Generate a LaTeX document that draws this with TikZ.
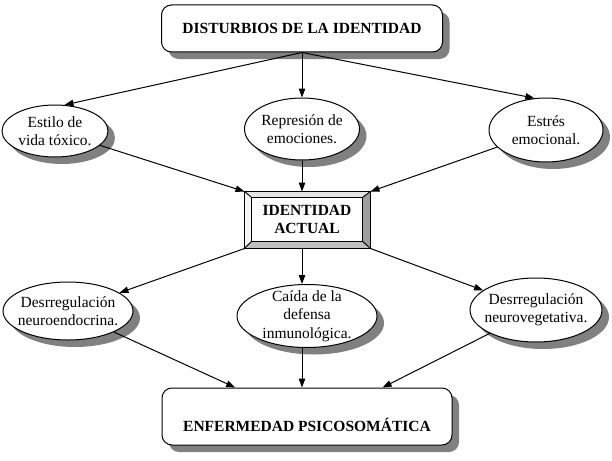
\documentclass[tikz,border=0pt]{standalone}
\usepackage{fontspec}
\setmainfont{Liberation Serif}
\usepackage{tikz}
\usetikzlibrary{arrows.meta,shapes.geometric,shadows}

\newcommand{\diagfont}{\fontsize{15.5}{18.5}\selectfont}

\begin{document}
\begin{tikzpicture}[
    x=1pt, y=-1pt, line width=1pt,
    shade/.style={drop shadow={shadow xshift=7pt, shadow yshift=-7pt, fill=black!50, opacity=1}},
    headbox/.style={draw, fill=white, rounded corners=10pt, inner sep=0pt, font=\diagfont\bfseries, shade},
    oval/.style={ellipse, draw, fill=white, align=center, inner xsep=-10pt, inner ysep=-10pt, font=\diagfont, shade},
    bevel/.style={draw, inner sep=0pt},
    arr/.style={-{Triangle[length=9pt, width=6.5pt]}}
  ]
    \useasboundingbox (0,0) rectangle (612,460);

    % upper row
    \node[headbox, minimum width=281pt, minimum height=47pt] (top) at (302,28.5) {DISTURBIOS DE LA IDENTIDAD};
    \node[oval, minimum width=106pt, minimum height=52pt] (e1) at (55,131) {Estilo de\\vida tóxico.};
    \node[oval, minimum width=115pt, minimum height=62pt] (e2) at (302,129) {Represión de\\emociones.};
    \node[oval, minimum width=114pt, minimum height=64pt] (e3) at (546,130) {Estrés\\emocional.};

    % centre box with bevelled frame
    \node[minimum width=125pt, minimum height=56pt, inner sep=0pt] (mid) at (307.5,220) {};
    \node[minimum width=110pt, minimum height=43pt, inner sep=0pt, align=center, font=\diagfont\bfseries] (midin) at (307,219.5) {IDENTIDAD\\ACTUAL};
    \filldraw[line width=0.8pt, fill=black!10] (mid.north west) -- (mid.north east) -- (midin.north east) -- (midin.north west) -- cycle;
    \filldraw[line width=0.8pt, fill=black!4] (mid.north west) -- (midin.north west) -- (midin.south west) -- (mid.south west) -- cycle;
    \filldraw[line width=0.8pt, fill=black!38] (mid.north east) -- (mid.south east) -- (midin.south east) -- (midin.north east) -- cycle;
    \filldraw[line width=0.8pt, fill=black!25] (mid.south west) -- (midin.south west) -- (midin.south east) -- (mid.south east) -- cycle;

    % lower row
    \node[oval, minimum width=130pt, minimum height=58pt] (d1) at (68,311) {Desrregulación\\neuroendocrina.};
    \node[oval, minimum width=140pt, minimum height=63pt] (d2) at (307,316) {Caída de la\\defensa\\inmunológica.};
    \node[oval, minimum width=132pt, minimum height=64pt] (d3) at (536,310) {Desrregulación\\neurovegetativa.};
    \node[headbox, minimum width=290pt, minimum height=57pt, text height=29pt, text depth=0pt] (bot) at (307,416.5) {ENFERMEDAD PSICOSOMÁTICA};

    % connectors
    \draw[arr] (top.south) -- (e1.70);
    \draw[arr] (top.south) -- (e2.north);
    \draw[arr] (top.south) -- (e3.110);
    \draw[arr] (e1) -- (mid.north west);
    \draw[arr] (e2.south) -- (e2.south |- mid.north);
    \draw[arr] (e3) -- (mid.north east);
    \draw[arr] (mid.south west) -- (d1);
    \draw[arr] (e2.south |- mid.south) -- (e2.south |- d2.north);
    \draw[arr] (mid.south east) -- (d3);
    \draw[arr] (d1) -- (bot.158);
    \draw[arr] (e2.south |- d2.south) -- (e2.south |- bot.north);
    \draw[arr] (d3) -- (bot.21);
  \end{tikzpicture}
\end{document}
